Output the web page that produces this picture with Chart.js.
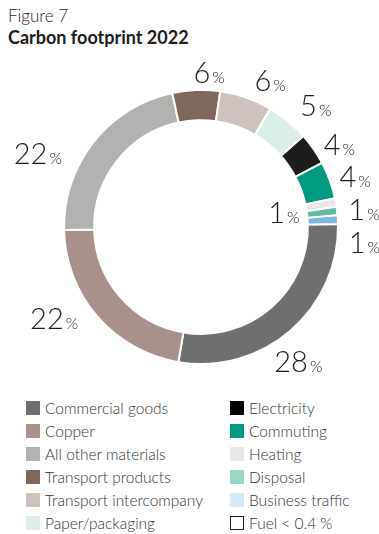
<!DOCTYPE html>
<html>
<head>
<meta charset="utf-8">
<script src="https://cdn.jsdelivr.net/npm/chart.js@4/dist/chart.umd.min.js"></script>
<style>
  html, body { margin: 0; padding: 0; background: #fff; }
  body { width: 379px; height: 534px; position: relative; overflow: hidden; font-family: "Lato", "Inter", sans-serif; color: #1d1d1b; }
  #fig { position: absolute; left: 8px; top: 5px; font-size: 17px; font-weight: 300; }
  #title { position: absolute; left: 8px; top: 26px; font-size: 18px; font-weight: 700; }
  #wrap { position: absolute; left: 0; top: 0; width: 379px; height: 390px; }
  #legend { position: absolute; left: 26px; top: 396px; width: 353px; display: grid; grid-template-columns: 204px 149px; grid-auto-flow: column; grid-template-rows: repeat(6, 23px); }
  .item { display: flex; align-items: center; font-size: 15.5px; font-weight: 300; color: #333; white-space: nowrap; height: 23px; }
  .sw { width: 14px; height: 14px; margin-right: 5px; box-sizing: border-box; flex: none; }
</style>
</head>
<body>
<div id="fig">Figure 7</div>
<div id="title">Carbon footprint 2022</div>
<div id="wrap"><canvas id="c" width="379" height="390"></canvas></div>
<div id="legend"></div>
<script>
// ---- data ----
const categories = ["Commercial goods", "Copper", "All other materials", "Transport products",
  "Transport intercompany", "Paper/packaging", "Electricity", "Commuting", "Heating",
  "Disposal", "Business traffic"];
const shares = [28, 22, 22, 5.6, 6.2, 5, 3.8, 4.4, 1, 1, 1];
const sliceColors = ["#706f6f", "#a8918a", "#b2b2b1", "#80675c", "#cdc2bd", "#dceee9",
  "#1d1d1b", "#009a80", "#ebe7e5", "#62b9a4", "#79b8e0"];
const legendLabels = ["Commercial goods", "Copper", "All other materials", "Transport products",
  "Transport intercompany", "Paper/packaging", "Electricity", "Commuting", "Heating",
  "Disposal", "Business traffic", "Fuel < 0.4 %"];
const legendColors = ["#706f6f", "#a8918a", "#b2b2b1", "#80675c", "#cdc2bd", "#dceee9",
  "#000000", "#009a80", "#ebe7e5", "#9ad7c8", "#d4eaf9", "#ffffff"];

// label placement relative to each arc: [angle shift in degrees, distance from centre]
const labelPlacement = [[5, 166], [9, 173], [-14, 179], [5, 155], [6, 162], [4, 167],
  [4, 161], [2, 162], [4, 164], [-3, 84], [8.5, 164]];

const pctLabels = {
  id: 'pctLabels',
  afterDatasetsDraw(chart) {
    const ctx = chart.ctx;
    const meta = chart.getDatasetMeta(0);
    ctx.save();
    ctx.fillStyle = '#1d1d1b';
    ctx.textBaseline = 'alphabetic';
    ctx.textAlign = 'left';
    meta.data.forEach((arc, i) => {
      const p = arc.getProps(['x', 'y', 'startAngle', 'endAngle'], true);
      const mid = (p.startAngle + p.endAngle) / 2 + labelPlacement[i][0] * Math.PI / 180;
      const r = labelPlacement[i][1];
      const cx = p.x + Math.cos(mid) * r;
      const cy = p.y + Math.sin(mid) * r;
      const num = String(Math.round(shares[i]));
      ctx.font = '300 29px Lato, Inter, sans-serif';
      const wn = ctx.measureText(num).width;
      ctx.font = '300 16px Lato, Inter, sans-serif';
      const wp = ctx.measureText('%').width;
      const w = wn + 2 + wp;
      const x0 = cx - w / 2;
      const base = cy + 10.5;
      ctx.font = '300 29px Lato, Inter, sans-serif';
      ctx.fillText(num, x0, base);
      ctx.font = '300 16px Lato, Inter, sans-serif';
      ctx.fillText('%', x0 + wn + 2, base);
    });
    ctx.restore();
  }
};

new Chart(document.getElementById('c'), {
  type: 'doughnut',
  data: {
    labels: categories,
    datasets: [{
      data: shares,
      backgroundColor: sliceColors,
      borderColor: '#ffffff',
      borderWidth: 2
    }]
  },
  options: {
    responsive: false,
    animation: false,
    rotation: 88.7,
    cutout: '78%',
    layout: { padding: { left: 63, right: 40, top: 89, bottom: 25 } },
    plugins: { legend: { display: false }, tooltip: { enabled: false } }
  },
  plugins: [pctLabels]
});

// HTML legend
const lg = document.getElementById('legend');
legendLabels.forEach((t, i) => {
  const d = document.createElement('div');
  d.className = 'item';
  const s = document.createElement('span');
  s.className = 'sw';
  s.style.background = legendColors[i];
  if (i === legendLabels.length - 1) s.style.border = '1px solid #1d1d1b';
  d.appendChild(s);
  d.appendChild(document.createTextNode(t));
  lg.appendChild(d);
});
</script>
</body>
</html>
